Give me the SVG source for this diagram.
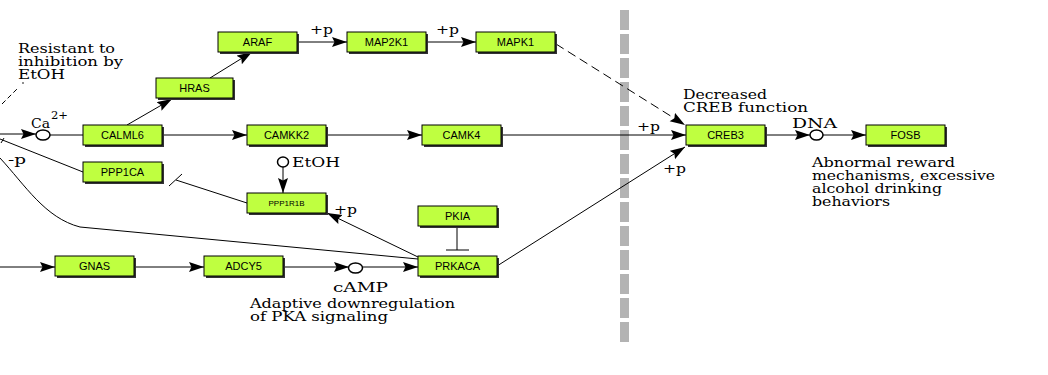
<svg xmlns="http://www.w3.org/2000/svg" width="1048" height="375" viewBox="0 0 1048 375">
<style>
.bx{fill:#bfff40;stroke:#000;stroke-width:1}
.sh{fill:#333}
.nl{font-family:"Liberation Sans",Arial,sans-serif;font-size:11px;fill:#000;text-anchor:middle}
.sm{font-size:8px}
.t{font-family:"DejaVu Serif","Liberation Serif",serif;font-size:13px;fill:#000}
.ln{stroke:#000;stroke-width:1;fill:none}
.ar{marker-end:url(#a)}
.cp{fill:#fff;stroke:#000;stroke-width:1.5}
</style>
<defs>
<marker id="a" markerUnits="userSpaceOnUse" markerWidth="16" markerHeight="12" refX="15" refY="5" orient="auto" viewBox="0 0 16 12">
<path d="M0,0 L15,5 L0,10 L2.5,5 z" fill="#000"/>
</marker>
</defs>
<rect width="1048" height="375" fill="#fff"/>
<line x1="624.5" y1="10" x2="624.5" y2="342" stroke="#b3b3b3" stroke-width="9" stroke-dasharray="20,4"/>
<g id="connectors">
<line class="ln ar" x1="0" y1="134" x2="36" y2="134"/>
<line class="ln" x1="50" y1="135" x2="83" y2="135"/>
<line class="ln ar" x1="162" y1="135" x2="247" y2="135"/>
<line class="ln ar" x1="326" y1="135" x2="422" y2="135"/>
<line class="ln ar" x1="501" y1="135" x2="686" y2="135"/>
<line class="ln ar" x1="127" y1="125" x2="172" y2="99"/>
<line class="ln ar" x1="210" y1="78" x2="252" y2="52"/>
<line class="ln ar" x1="297" y1="42" x2="347" y2="42"/>
<line class="ln ar" x1="427" y1="42" x2="476" y2="42"/>
<line class="ln ar" x1="556" y1="44" x2="685" y2="125" stroke-dasharray="9,5"/>
<line class="ln ar" x1="497" y1="266" x2="685" y2="147"/>
<line class="ln ar" x1="765" y1="135" x2="810" y2="135"/>
<line class="ln ar" x1="823" y1="135" x2="866" y2="135"/>
<line class="ln ar" x1="0" y1="267" x2="55" y2="267"/>
<line class="ln ar" x1="135" y1="267" x2="204" y2="267"/>
<line class="ln ar" x1="284" y1="267" x2="349" y2="267"/>
<line class="ln ar" x1="362" y1="267" x2="418" y2="267"/>
<line class="ln" x1="457" y1="227" x2="457" y2="250"/>
<line class="ln" x1="446" y1="250" x2="469" y2="250"/>
<line class="ln ar" x1="418" y1="257" x2="327" y2="213"/>
<line class="ln ar" x1="283" y1="167" x2="283" y2="193"/>
<line class="ln" x1="247" y1="203" x2="176" y2="180"/>
<line class="ln" x1="169" y1="186" x2="182" y2="174"/>
<line class="ln" x1="0" y1="139" x2="83" y2="172"/>
<path class="ln" d="M0,158 C25,185 45,218 80,227 L418,259"/>
<line class="ln" x1="2" y1="104" x2="18" y2="88" stroke-dasharray="5,3"/>
<circle cx="23" cy="83" r="0.8" fill="#000"/>
<line class="ln" x1="1" y1="143" x2="4" y2="138"/>
</g>
<g id="cpd-ca"><ellipse class="cp" cx="43" cy="135" rx="7" ry="5"/></g>
<g id="cpd-dna"><ellipse class="cp" cx="816.5" cy="135" rx="6.5" ry="5"/></g>
<g id="cpd-camp"><ellipse class="cp" cx="355.5" cy="268" rx="7" ry="5"/></g>
<g id="cpd-etoh"><ellipse class="cp" cx="283" cy="162" rx="5.5" ry="5"/></g>
<g id="n-araf"><rect class="sh" x="220" y="34" width="79" height="20"/><rect class="bx" x="218" y="32" width="79" height="20"/><text class="nl" x="257.5" y="46">ARAF</text></g>
<g id="n-map2k1"><rect class="sh" x="349" y="34" width="79" height="20"/><rect class="bx" x="347" y="32" width="79" height="20"/><text class="nl" x="386.5" y="46">MAP2K1</text></g>
<g id="n-mapk1"><rect class="sh" x="478" y="34" width="79" height="20"/><rect class="bx" x="476" y="32" width="79" height="20"/><text class="nl" x="515.5" y="46">MAPK1</text></g>
<g id="n-hras"><rect class="sh" x="158" y="80" width="77" height="20"/><rect class="bx" x="156" y="78" width="77" height="20"/><text class="nl" x="194.5" y="92">HRAS</text></g>
<g id="n-calml6"><rect class="sh" x="85" y="127" width="79" height="20"/><rect class="bx" x="83" y="125" width="79" height="20"/><text class="nl" x="122.5" y="139">CALML6</text></g>
<g id="n-camkk2"><rect class="sh" x="249" y="127" width="79" height="20"/><rect class="bx" x="247" y="125" width="79" height="20"/><text class="nl" x="286.5" y="139">CAMKK2</text></g>
<g id="n-camk4"><rect class="sh" x="424" y="127" width="79" height="20"/><rect class="bx" x="422" y="125" width="79" height="20"/><text class="nl" x="461.5" y="139">CAMK4</text></g>
<g id="n-creb3"><rect class="sh" x="688" y="127" width="79" height="20"/><rect class="bx" x="686" y="125" width="79" height="20"/><text class="nl" x="725.5" y="139">CREB3</text></g>
<g id="n-fosb"><rect class="sh" x="868" y="127" width="79" height="20"/><rect class="bx" x="866" y="125" width="79" height="20"/><text class="nl" x="905.5" y="139">FOSB</text></g>
<g id="n-ppp1ca"><rect class="sh" x="85" y="164" width="79" height="20"/><rect class="bx" x="83" y="162" width="79" height="20"/><text class="nl" x="122.5" y="176">PPP1CA</text></g>
<g id="n-ppp1r1b"><rect class="sh" x="249" y="195" width="79" height="20"/><rect class="bx" x="247" y="193" width="79" height="20"/><text class="nl sm" x="286.5" y="206">PPP1R1B</text></g>
<g id="n-pkia"><rect class="sh" x="420" y="208" width="79" height="20"/><rect class="bx" x="418" y="206" width="79" height="20"/><text class="nl" x="457.5" y="220">PKIA</text></g>
<g id="n-gnas"><rect class="sh" x="57" y="258" width="79" height="20"/><rect class="bx" x="55" y="256" width="79" height="20"/><text class="nl" x="94.5" y="270">GNAS</text></g>
<g id="n-adcy5"><rect class="sh" x="206" y="258" width="79" height="20"/><rect class="bx" x="204" y="256" width="79" height="20"/><text class="nl" x="243.5" y="270">ADCY5</text></g>
<g id="n-prkaca"><rect class="sh" x="420" y="258" width="79" height="20"/><rect class="bx" x="418" y="256" width="79" height="20"/><text class="nl" x="457.5" y="270">PRKACA</text></g>
<g id="labels">
<text class="t" x="18" y="53" textLength="97" lengthAdjust="spacingAndGlyphs">Resistant to</text>
<text class="t" x="18" y="66" textLength="105" lengthAdjust="spacingAndGlyphs">inhibition by</text>
<text class="t" x="18" y="79" textLength="47" lengthAdjust="spacingAndGlyphs">EtOH</text>
<text class="t" x="31" y="128" textLength="19" lengthAdjust="spacingAndGlyphs">Ca</text>
<text class="t" x="51" y="119" style="font-size:11px" textLength="17" lengthAdjust="spacingAndGlyphs">2+</text>
<text class="t" x="8" y="164" textLength="18" lengthAdjust="spacingAndGlyphs">-p</text>
<text class="t" x="310" y="34" textLength="23" lengthAdjust="spacingAndGlyphs">+p</text>
<text class="t" x="436" y="34" textLength="23" lengthAdjust="spacingAndGlyphs">+p</text>
<text class="t" x="637" y="131" textLength="23" lengthAdjust="spacingAndGlyphs">+p</text>
<text class="t" x="663" y="173" textLength="23" lengthAdjust="spacingAndGlyphs">+p</text>
<text class="t" x="334" y="214" textLength="23" lengthAdjust="spacingAndGlyphs">+p</text>
<text class="t" x="292" y="167" textLength="48" lengthAdjust="spacingAndGlyphs">EtOH</text>
<text class="t" x="333" y="292" textLength="55" lengthAdjust="spacingAndGlyphs">cAMP</text>
<text class="t" x="250" y="308" textLength="205" lengthAdjust="spacingAndGlyphs">Adaptive downregulation</text>
<text class="t" x="250" y="321" textLength="138" lengthAdjust="spacingAndGlyphs">of PKA signaling</text>
<text class="t" x="683" y="99" textLength="84" lengthAdjust="spacingAndGlyphs">Decreased</text>
<text class="t" x="683" y="112" textLength="125" lengthAdjust="spacingAndGlyphs">CREB function</text>
<text class="t" x="792" y="128" textLength="45" lengthAdjust="spacingAndGlyphs">DNA</text>
<text class="t" x="812" y="167" textLength="143" lengthAdjust="spacingAndGlyphs">Abnormal reward</text>
<text class="t" x="812" y="180" textLength="183" lengthAdjust="spacingAndGlyphs">mechanisms, excessive</text>
<text class="t" x="812" y="193" textLength="130" lengthAdjust="spacingAndGlyphs">alcohol drinking</text>
<text class="t" x="812" y="206" textLength="78" lengthAdjust="spacingAndGlyphs">behaviors</text>
</g>
</svg>
